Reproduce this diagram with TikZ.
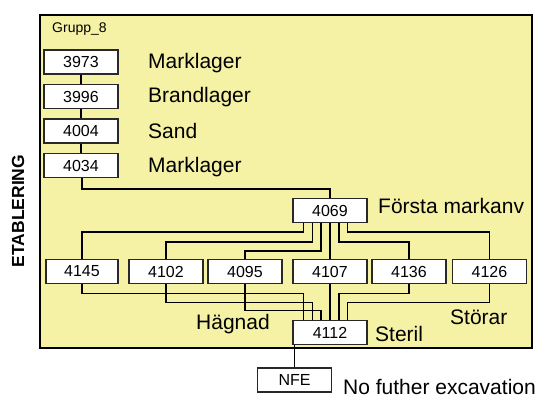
\documentclass[tikz,border=0pt]{standalone}
\usepackage{fontspec}
\setmainfont{Liberation Sans}
\definecolor{grpyellow}{RGB}{245,241,165}
\definecolor{boxline}{RGB}{40,40,40}
\begin{document}
\begin{tikzpicture}[x=1pt,y=-1pt,
  numbox/.style={draw=boxline, line width=1.6pt, fill=white, minimum width=74pt, minimum height=24pt, inner sep=0pt, font=\fontsize{16}{18}\selectfont},
  conn/.style={draw=black, line width=1.6pt},
  lbl/.style={anchor=base west, inner sep=0pt, font=\fontsize{21}{24}\selectfont},
  frame/.style={draw=black, line width=1.8pt, fill=grpyellow, minimum width=492pt, minimum height=333pt, inner sep=0pt}]
\useasboundingbox (0,0) rectangle (539,398);
\fill[white] (0,0) rectangle (539,398);
\node[frame] (grp) at (286,181.5) {};
\node[anchor=base west, inner sep=0pt, font=\fontsize{14}{16}\selectfont] (grptitle) at (52,33) {Grupp\_8};
\node[rotate=90, inner sep=0pt, font=\bfseries\fontsize{17.5}{20}\selectfont] (etab) at (18,211) {ETABLERING};
% left column
\node[numbox] (n3973) at (81,62) {3973};
\node[numbox] (n3996) at (81,96.5) {3996};
\node[numbox] (n4004) at (81,131) {4004};
\node[numbox] (n4034) at (81,165.5) {4034};
\node[lbl] (l3973) at (148,69) {Marklager};
\node[lbl] (l3996) at (148,103) {Brandlager};
\node[lbl] (l4004) at (148,139) {Sand};
\node[lbl] (l4034) at (148,173) {Marklager};
% middle
\node[numbox] (n4069) at (330,210.5) {4069};
\node[lbl] (l4069) at (378,214) {Första markanv};
% row
\node[numbox, minimum width=72pt] (n4145) at (82,271.5) {4145};
\node[numbox] (n4102) at (166,271.5) {4102};
\node[numbox] (n4095) at (245,271.5) {4095};
\node[numbox] (n4107) at (330,271.5) {4107};
\node[numbox] (n4136) at (409,271.5) {4136};
\node[numbox] (n4126) at (489.5,271.5) {4126};
% bottom
\node[numbox] (n4112) at (330,332.5) {4112};
\node[lbl] (l4112) at (375,342) {Steril};
\node[lbl] (lstorar) at (450,325) {Störar};
\node[lbl] (lhagnad) at (196,330) {Hägnad};
\node[numbox] (nNFE) at (294.5,380) {NFE};
\node[lbl] (lnfe) at (343,395) {No futher excavation};
% connectors
\draw[conn] (n3973) -- (n3996);
\draw[conn] (n3996) -- (n4004);
\draw[conn] (n4004) -- (n4034);
\draw[conn] ([xshift=1pt]n4034.south) -- ++(0,11) -| (n4069.north);
\draw[conn] ([xshift=-26.4pt]n4069.south) -- ++(0,9) -| (n4145.north);
\draw[conn] ([xshift=-17.6pt]n4069.south) -- ++(0,19) -| (n4102.north);
\draw[conn] ([xshift=-8.8pt]n4069.south) -- ++(0,28) -| (n4095.north);
\draw[conn] (n4069.south) -- (n4107.north);
\draw[conn] ([xshift=8.8pt]n4069.south) -- ++(0,19) -| (n4136.north);
\draw[conn] ([xshift=17.6pt]n4069.south) -- ++(0,9) -| (n4126.north);
\draw[conn] ([xshift=-26.4pt]n4112.north) -- ++(0,-26) -| (n4145.south);
\draw[conn] ([xshift=-17.6pt]n4112.north) -- ++(0,-17) -| (n4102.south);
\draw[conn] ([xshift=-8.8pt]n4112.north) -- ++(0,-9) -| (n4095.south);
\draw[conn] (n4107.south) -- (n4112.north);
\draw[conn] ([xshift=8.8pt]n4112.north) -- ++(0,-26) -| (n4136.south);
\draw[conn] ([xshift=17.6pt]n4112.north) -- ++(0,-17) -| (n4126.south);
\draw[conn] (nNFE.north |- n4112.south) -- (nNFE.north);
\end{tikzpicture}
\end{document}
